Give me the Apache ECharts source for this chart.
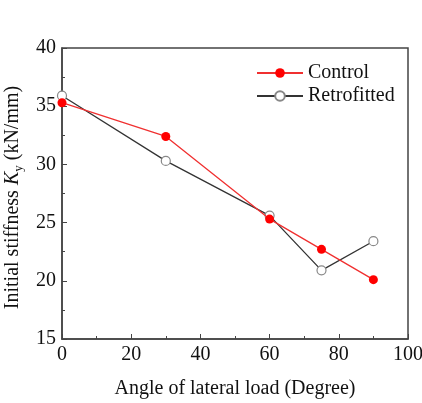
<!DOCTYPE html>
<html>
<head>
<meta charset="utf-8">
<script src="https://cdn.jsdelivr.net/npm/echarts@6/dist/echarts.min.js"></script>
<style>
    body { margin: 0; background: #fff; }
    #chart { width: 422px; height: 403px; }
</style>
</head>
<body>
<div id="chart"></div>
<script>
    // angle of lateral load (degree)
    var angles = [0, 30, 60, 75, 90];
    var control = [35.3, 32.4, 25.3, 22.7, 20.1];
    var retrofitted = [35.9, 30.3, 25.6, 20.9, 23.4];

    function pairs(xs, ys) {
        return xs.map(function (x, i) { return [x, ys[i]]; });
    }

    var font = 'Liberation Serif';
    var axisColor = '#444';

    var myChart = echarts.init(document.getElementById('chart'));
    var option = {
        backgroundColor: '#fff',
        textStyle: { fontFamily: font },
        grid: {
            left: 62, right: 14, top: 48, bottom: 64,
            outerBoundsMode: 'none',
            containLabel: false,
            show: true, borderColor: axisColor, borderWidth: 1.5
        },
        legend: {
            orient: 'vertical',
            left: 251,
            top: 58,
            itemWidth: 46,
            itemHeight: 12,
            itemGap: 3,
            textStyle: { fontFamily: font, fontSize: 20, color: '#111' },
            data: ['Control', 'Retrofitted']
        },
        xAxis: {
            type: 'value',
            min: 0, max: 100, interval: 20,
            name: 'Angle of lateral load (Degree)',
            nameLocation: 'middle',
            nameGap: 40,
            nameTextStyle: { fontFamily: font, fontSize: 20, color: '#111' },
            axisLine: { lineStyle: { color: axisColor, width: 1.5 } },
            axisTick: { inside: true, length: 5, lineStyle: { color: axisColor } },
            minorTick: { show: true, splitNumber: 2, length: 3, lineStyle: { color: axisColor } },
            axisLabel: { fontFamily: font, fontSize: 20, color: '#111', margin: 6 },
            splitLine: { show: false }
        },
        yAxis: {
            type: 'value',
            min: 15, max: 40, interval: 5,
            name: '{a|Initial stiffness }{i|K}{s|y}{a| (kN/mm)}',
            nameLocation: 'middle',
            nameGap: 36,
            nameTextStyle: {
                fontFamily: font, fontSize: 20, color: '#111',
                padding: [0, 8, 0, 0],
                rich: {
                    a: { fontFamily: font, fontSize: 20, color: '#111' },
                    i: { fontFamily: font, fontSize: 20, fontStyle: 'italic', color: '#111' },
                    s: { fontFamily: font, fontSize: 13, color: '#111', padding: [12, 0, 0, 0] }
                }
            },
            axisLine: { show: true, lineStyle: { color: axisColor, width: 1.5 } },
            axisTick: { inside: true, length: 5, lineStyle: { color: axisColor } },
            minorTick: { show: true, splitNumber: 2, length: 3, lineStyle: { color: axisColor } },
            axisLabel: { fontFamily: font, fontSize: 20, color: '#111', margin: 6 },
            splitLine: { show: false }
        },
        series: [
            {
                name: 'Control',
                type: 'line',
                data: pairs(angles, control),
                symbol: 'circle',
                symbolSize: 9,
                itemStyle: { color: '#ff0000' },
                lineStyle: { color: '#f03030', width: 1.3 },
                z: 3
            },
            {
                name: 'Retrofitted',
                type: 'line',
                data: pairs(angles, retrofitted),
                symbol: 'circle',
                symbolSize: 9,
                itemStyle: { color: '#fff', borderColor: '#888', borderWidth: 1.2 },
                lineStyle: { color: '#333', width: 1.3 },
                z: 2
            }
        ]
    };
    option && myChart.setOption(option);
</script>
</body>
</html>
